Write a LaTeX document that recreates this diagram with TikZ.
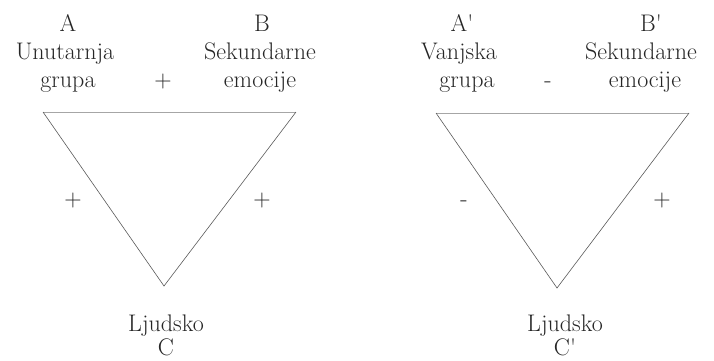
\documentclass[tikz,border=0pt]{standalone}
\usepackage{fontspec}
\setmainfont{Latin Modern Roman}
\begin{document}
\begin{tikzpicture}[x=1pt,y=-1pt,
  lbl/.style={anchor=base,inner sep=0pt,font=\fontsize{24}{28}\selectfont,text=black!85},
  topedge/.style={draw=black!35,line width=1pt},
  sideedge/.style={draw=black!65,line width=0.6pt}]
\useasboundingbox (0,0) rectangle (714,360);
% left triangle
\coordinate (LA) at (43,112);
\coordinate (LB) at (296,112);
\coordinate (LC) at (164,286);
\draw[topedge] (LA) -- (LB);
\draw[sideedge] (LA) -- (LC) -- (LB);
\node[lbl] (a1) at (68,31) {A};
\node[lbl] (a2) at (65,59) {Unutarnja};
\node[lbl] (a3) at (68,87) {grupa};
\node[lbl] (b1) at (262,31) {B};
\node[lbl] (b2) at (260,59) {Sekundarne};
\node[lbl] (b3) at (260,87) {emocije};
\node[lbl] (pab) at (163,87) {+};
\node[lbl] (pac) at (73,206) {+};
\node[lbl] (pbc) at (262,206) {+};
\node[lbl] (c1) at (166,331) {Ljudsko};
\node[lbl] (c2) at (166,355) {C};
% right triangle
\coordinate (RA) at (436,113);
\coordinate (RB) at (689,113);
\coordinate (RC) at (557,288);
\draw[topedge] (RA) -- (RB);
\draw[sideedge] (RA) -- (RC) -- (RB);
\node[lbl] (ra1) at (462,31) {A\textquotesingle};
\node[lbl] (ra2) at (459,59) {Vanjska};
\node[lbl] (ra3) at (467,87) {grupa};
\node[lbl] (rb1) at (651,31) {B\textquotesingle};
\node[lbl] (rb2) at (641,59) {Sekundarne};
\node[lbl] (rb3) at (645,87) {emocije};
\node[lbl] (mab) at (548,87) {-};
\node[lbl] (mac) at (464,206) {-};
\node[lbl] (pbc2) at (662,206) {+};
\node[lbl] (rc1) at (565,331) {Ljudsko};
\node[lbl] (rc2) at (565,355) {C\textquotesingle};
\end{tikzpicture}
\end{document}
